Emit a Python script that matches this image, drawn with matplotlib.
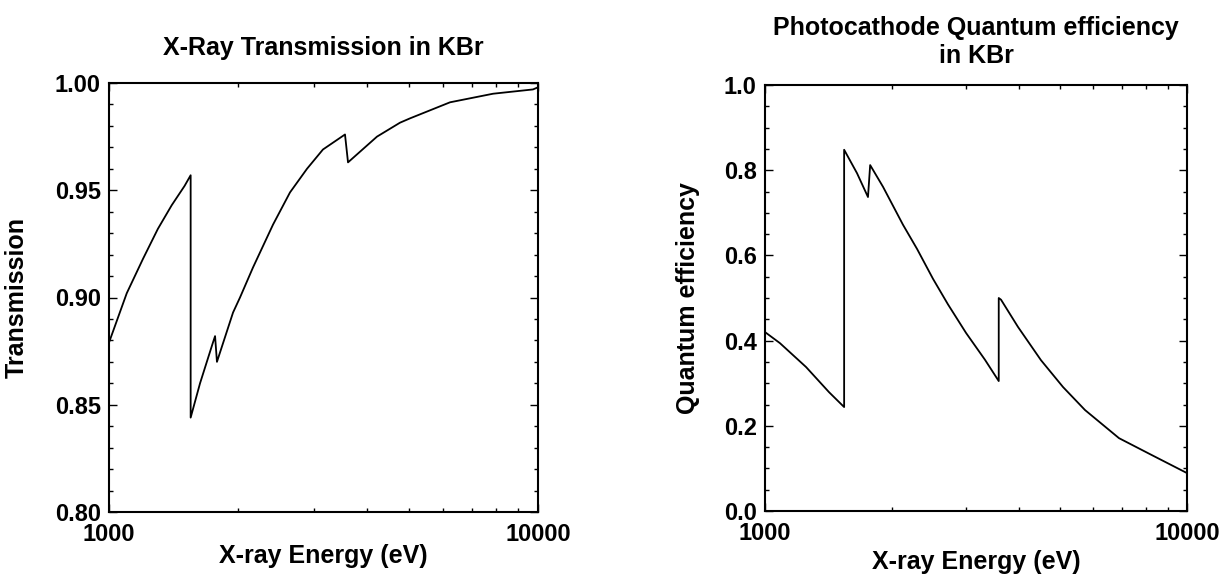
import matplotlib
matplotlib.use("Agg")
import matplotlib.pyplot as plt
from matplotlib.ticker import FixedLocator, NullFormatter, MultipleLocator, FormatStrFormatter

# transmission curve (left panel)
energyTrans = [1000, 1100, 1200, 1300, 1400, 1500, 1550, 1550, 1630, 1747, 1767, 1785,
               1946, 2020, 2166, 2412, 2642, 2894, 3153, 3549, 3607, 4214, 4768, 5029,
               6236, 7856, 9735, 10000]
transmission = [0.879, 0.902, 0.918, 0.932, 0.943, 0.952, 0.957, 0.844, 0.860, 0.879, 0.882, 0.870,
                0.893, 0.900, 0.914, 0.934, 0.949, 0.960, 0.969, 0.976, 0.963, 0.975, 0.9815, 0.9835,
                0.991, 0.995, 0.997, 0.998]

# quantum efficiency curve (right panel)
energyQE = [1000, 1085, 1251, 1418, 1540, 1540, 1652, 1754, 1775, 1904, 2123, 2293,
            2501, 2714, 2995, 3321, 3580, 3580, 3625, 3977, 4508, 5084, 5732, 6900,
            8263, 10000]
quantumEff = [0.420, 0.394, 0.338, 0.279, 0.244, 0.848, 0.793, 0.737, 0.812, 0.761, 0.672, 0.615,
              0.545, 0.485, 0.418, 0.355, 0.305, 0.500, 0.496, 0.432, 0.354, 0.291, 0.237, 0.171,
              0.131, 0.089]

xTicks = [1000, 10000]
xTickLabels = ["1000", "10000"]

plt.rcParams['font.family'] = ['Liberation Sans', 'DejaVu Sans']
plt.rcParams['font.weight'] = 'bold'

fig = plt.figure(figsize=(12.32, 5.75), dpi=100)
ax1 = fig.add_axes([109/1232, 1-512/575, 429/1232, 429/575])
ax2 = fig.add_axes([765/1232, 1-511/575, 422/1232, 426/575])


def styleAxes(ax):
    ax.set_xscale('log')
    ax.set_xlim(1000, 10000)
    ax.xaxis.set_major_locator(FixedLocator(xTicks))
    ax.set_xticklabels(xTickLabels)
    ax.xaxis.set_minor_locator(FixedLocator(range(2000, 10000, 1000)))
    ax.xaxis.set_minor_formatter(NullFormatter())
    ax.tick_params(which='both', direction='in', top=True, right=True, width=1.0)
    ax.tick_params(which='major', length=6, labelsize=17)
    ax.tick_params(axis='y', which='major', pad=6)
    ax.tick_params(axis='x', which='major', pad=8)
    ax.tick_params(which='minor', length=3)
    for s in ax.spines.values():
        s.set_linewidth(1.5)


ax1.plot(energyTrans, transmission, color='black', lw=1.3)
styleAxes(ax1)
ax1.set_ylim(0.80, 1.00)
ax1.yaxis.set_major_locator(MultipleLocator(0.05))
ax1.yaxis.set_minor_locator(MultipleLocator(0.01))
ax1.yaxis.set_major_formatter(FormatStrFormatter('%.2f'))
ax1.set_title("X-Ray Transmission in KBr", fontsize=18, fontweight='bold', pad=20)
ax1.set_xlabel("X-ray Energy (eV)", fontsize=18, fontweight='bold')
ax1.set_ylabel("Transmission", fontsize=18, fontweight='bold')
ax1.xaxis.set_label_coords(0.5, -0.075)
ax1.yaxis.set_label_coords(-0.186, 0.5)

ax2.plot(energyQE, quantumEff, color='black', lw=1.3)
styleAxes(ax2)
ax2.set_ylim(0.0, 1.0)
ax2.yaxis.set_major_locator(MultipleLocator(0.2))
ax2.yaxis.set_minor_locator(MultipleLocator(0.05))
ax2.yaxis.set_major_formatter(FormatStrFormatter('%.1f'))
ax2.set_title("Photocathode Quantum efficiency\nin KBr", fontsize=18, fontweight='bold', pad=16)
ax2.set_xlabel("X-ray Energy (eV)", fontsize=18, fontweight='bold')
ax2.set_ylabel("Quantum efficiency", fontsize=18, fontweight='bold')
ax2.xaxis.set_label_coords(0.5, -0.092)
ax2.yaxis.set_label_coords(-0.154, 0.5)

for ax in (ax1, ax2):
    for lab in ax.get_xticklabels() + ax.get_yticklabels():
        lab.set_fontweight('bold')

fig.savefig("out.png", dpi=100)
